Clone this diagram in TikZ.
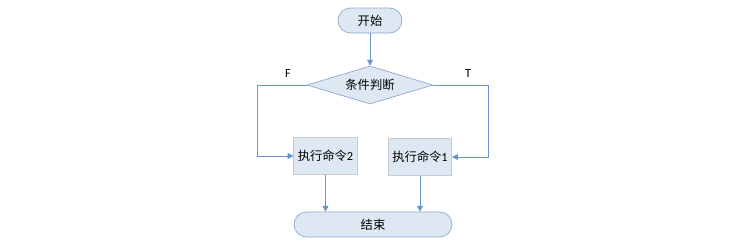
\documentclass[tikz,border=0pt]{standalone}
\usepackage{fontspec}
\setmainfont{Carlito}
\newfontfamily\cjk{Noto Sans CJK SC}
\usetikzlibrary{shapes.geometric,arrows.meta}

\definecolor{boxfill}{HTML}{DEE8F3}
\definecolor{termline}{HTML}{8EAAD0}
\definecolor{boxline}{HTML}{C5CCD4}
\definecolor{arrowline}{HTML}{6592D0}

\tikzset{
  label font/.style={font=\fontsize{10.5}{12}\selectfont},
  term/.style={draw=termline, fill=boxfill, line width=0.6pt, rounded corners=0.375cm, minimum height=0.75cm, inner sep=0pt, label font, font=\cjk\fontsize{10.5}{12}\selectfont},
  cmdbox/.style={draw=boxline, fill=boxfill, line width=0.6pt, minimum width=1.9cm, minimum height=1.12cm, inner sep=0pt, label font},
  cond/.style={draw=termline, fill=boxfill, line width=0.6pt, diamond, aspect=3.3, minimum width=3.78cm, minimum height=1.14cm, inner sep=0pt, font=\cjk\fontsize{10.5}{12}\selectfont},
  flow/.style={draw=arrowline, line width=0.6pt, -{Triangle[length=5pt,width=5pt]}},
}

\begin{document}
\begin{tikzpicture}[x=0.03cm, y=-0.03cm]
        \useasboundingbox (0,0) rectangle (747,246);

        % 开始 / 判断
        \node[term, minimum width=1.92cm] (start) at (370,20.5) {开始};
        \node[cond] (judge) at (370,85) {条件判断};

        % 两个分支
        \node[cmdbox] (cmd2) at (325.5,156) {{\cjk 执行命令}2};
        \node[cmdbox] (cmd1) at (420,157) {{\cjk 执行命令}1};

        % 结束
        \node[term, minimum width=4.74cm] (stop) at (373,224.5) {结束};

        \coordinate (lturn) at (257,85);
        \coordinate (rturn) at (488,85);

        \draw[flow] (start) -- (judge);
        \draw[flow] (judge.west) -- (lturn) |- (cmd2.west);
        \draw[flow] (judge.east) -- (rturn) |- (cmd1.east);
        \draw[flow] (cmd2.south) -- (cmd2.south |- stop.north);
        \draw[flow] (cmd1.south) -- (cmd1.south |- stop.north);

        \node[label font] (flabel) at (288,74) {F};
        \node[label font] (tlabel) at (468,74) {T};

    \end{tikzpicture}
\end{document}
